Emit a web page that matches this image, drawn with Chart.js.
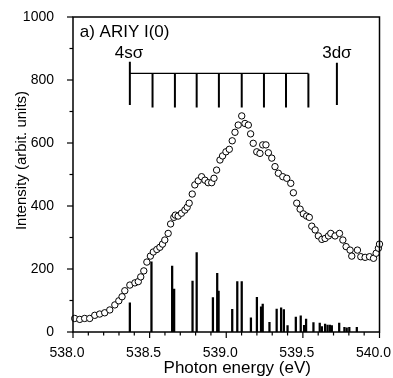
<!DOCTYPE html>
<html>
<head>
<meta charset="utf-8">
<script src="https://cdn.jsdelivr.net/npm/chart.js@4/dist/chart.umd.min.js"></script>
<style>
html,body{margin:0;padding:0;background:#fff;}
canvas{display:block;}
</style>
</head>
<body>
<canvas id="c" width="393" height="378"></canvas>
<script>
// ---- Data ----
const circleEnergies = [538.011,538.044,538.076,538.109,538.142,538.174,538.207,538.240,538.273,538.299,538.320,538.338,538.371,538.404,538.426,538.442,538.462,538.482,538.505,538.524,538.547,538.567,538.584,538.599,538.621,538.637,538.658,538.668,538.686,538.708,538.730,538.745,538.758,538.778,538.795,538.817,538.839,538.861,538.882,538.905,538.920,538.937,538.959,538.976,538.998,539.020,539.039,539.057,539.078,539.101,539.122,539.144,539.159,539.176,539.199,539.220,539.238,539.259,539.275,539.297,539.318,539.340,539.369,539.395,539.421,539.438,539.460,539.482,539.503,539.525,539.542,539.558,539.580,539.601,539.624,539.645,539.667,539.682,539.710,539.739,539.761,539.782,539.808,539.819,539.856,539.878,539.906,539.935,539.961,539.978,539.993,540.000];
const circleIntensities = [43,40,43,43,53,57,61,70,86,99,112,131,149,156,160,175,194,222,241,254,262,269,279,292,313,343,364,371,368,377,387,396,409,438,467,480,493,482,474,474,488,514,546,559,572,580,607,634,657,686,662,657,629,599,572,567,594,594,569,552,525,504,493,488,472,442,409,390,375,368,364,336,324,305,294,297,305,313,305,313,292,271,260,241,260,239,237,239,234,250,266,279];

const stickEnergies = [538.371,538.512,538.647,538.660,538.780,538.807,538.913,538.941,538.950,539.039,539.072,539.101,539.161,539.200,539.227,539.238,539.282,539.329,539.358,539.376,539.400,539.454,539.486,539.508,539.521,539.569,539.610,539.624,539.645,539.661,539.676,539.689,539.737,539.771,539.786,539.803,539.852];
const stickIntensities = [93,223,209,136,162,252,109,186,130,72,160,160,45,110,80,89,31,73,77,71,20,47,51,21,41,30,28,17,25,22,22,20,28,15,13,15,15];

// 4s-sigma vibrational progression and 3d-sigma marker (energies, eV)
const progressionEnergies = [538.371,538.519,538.665,538.807,538.952,539.101,539.246,539.390,539.536];
const originLevels = [858, 721];     // 4sσ origin line (intensity units)
const combLevels = [821, 713];       // comb bar level and tooth bottom
const state3dEnergy = 539.722;
const state3dLevels = [855, 721];

const xTickLabels = ['538.0','538.5','539.0','539.5','540.0'];
const yTickLabels = ['0','200','400','600','800','1000'];
const xTitle = 'Photon energy (eV)';
const yTitle = 'Intensity (arbit. units)';
const annotations = [
  {text:'a) ARIY I(0)', x:538.044, y:952, align:'left'},
  {text:'4sσ', x:538.366, y:886, align:'center'},
  {text:'3dσ', x:539.722, y:886, align:'center'}
];

// ---- Build datasets ----
const circles = circleEnergies.map((e,i)=>({x:e,y:circleIntensities[i]}));
const sticks = stickEnergies.map((e,i)=>({x:e,y:stickIntensities[i]}));

const verticalMarks = [];
verticalMarks.push({x:progressionEnergies[0],y:originLevels[0]},{x:progressionEnergies[0],y:originLevels[1]},{x:progressionEnergies[0],y:null});
for (let i=1;i<progressionEnergies.length;i++){
  verticalMarks.push({x:progressionEnergies[i],y:combLevels[0]},{x:progressionEnergies[i],y:combLevels[1]},{x:progressionEnergies[i],y:null});
}
verticalMarks.push({x:state3dEnergy,y:state3dLevels[0]},{x:state3dEnergy,y:state3dLevels[1]});
const combBar = [{x:progressionEnergies[0],y:combLevels[0]},{x:progressionEnergies[progressionEnergies.length-1],y:combLevels[0]}];

const FONT = 'Arial, "Liberation Sans", sans-serif';

const decor = {
  id:'decor',
  afterDraw(chart){
    const ctx = chart.ctx, a = chart.chartArea;
    const xs = chart.scales.x, ys = chart.scales.y;
    ctx.save();
    ctx.strokeStyle = '#000';
    ctx.lineWidth = 1.5;
    ctx.strokeRect(a.left, a.top, a.right-a.left, a.bottom-a.top);
    ctx.lineWidth = 1.2;
    // y ticks (outward)
    for (let v=0; v<=1000; v+=100){
      const y = ys.getPixelForValue(v);
      const len = (v%200===0)?6:3.5;
      ctx.beginPath(); ctx.moveTo(a.left-len,y); ctx.lineTo(a.left,y); ctx.stroke();
    }
    // x ticks (outward)
    for (let k=0; k<=20; k++){
      const v = 538 + k*0.1;
      const x = xs.getPixelForValue(v);
      const len = (k%5===0)?6:3.5;
      ctx.beginPath(); ctx.moveTo(x,a.bottom); ctx.lineTo(x,a.bottom+len); ctx.stroke();
    }
    // annotations
    ctx.fillStyle = '#000';
    ctx.font = '17px ' + FONT;
    ctx.textBaseline = 'middle';
    annotations.forEach(an=>{
      ctx.textAlign = an.align;
      ctx.fillText(an.text, xs.getPixelForValue(an.x), ys.getPixelForValue(an.y));
    });
    // axis titles
    ctx.textAlign = 'center';
    ctx.font = '17px ' + FONT;
    ctx.fillText(xTitle, (a.left+a.right)/2 + 11, 368);
    ctx.save();
    ctx.translate(22, (a.top+a.bottom)/2 - 14);
    ctx.rotate(-Math.PI/2);
    ctx.font = '15px ' + FONT;
    ctx.fillText(yTitle, 0, 0);
    ctx.restore();
    ctx.restore();
  }
};

new Chart(document.getElementById('c'), {
  type:'bar',
  data:{
    datasets:[
      {type:'scatter', data:circles, showLine:false, pointRadius:3.2, pointHoverRadius:3.2,
       pointBorderWidth:1, borderColor:'#000', backgroundColor:'#fff', pointBackgroundColor:'#fff', order:0, clip:false},
      {type:'bar', data:sticks, backgroundColor:'#000', borderWidth:0, barThickness:1.6, order:2},
      {type:'line', data:verticalMarks, borderColor:'#000', borderWidth:2, pointRadius:0, spanGaps:false, fill:false, order:1},
      {type:'line', data:combBar, borderColor:'#000', borderWidth:1.3, pointRadius:0, fill:false, order:1}
    ]
  },
  plugins:[decor],
  options:{
    responsive:false,
    animation:false,
    devicePixelRatio:1,
    layout:{padding:{left:0,right:13.5,top:17,bottom:0}},
    plugins:{legend:{display:false},tooltip:{enabled:false}},
    scales:{
      x:{type:'linear', min:538, max:540, offset:false,
         grid:{display:false}, border:{display:false},
         afterFit(s){ s.height = 46; s.paddingLeft = 0; s.paddingRight = 0; },
         ticks:{stepSize:0.5, padding:5, labelOffset:-6, color:'#000', font:{size:14, family:FONT},
                maxRotation:0, autoSkip:false,
                callback:(v,i)=>xTickLabels[i]}},
      y:{type:'linear', min:0, max:1000,
         grid:{display:false}, border:{display:false},
         afterFit(s){ s.width = 73; s.paddingTop = 0; s.paddingBottom = 0; },
         ticks:{stepSize:200, padding:11, color:'#000', font:{size:14, family:FONT},
                callback:(v,i)=>yTickLabels[i]}}
    }
  }
});
</script>
</body>
</html>
